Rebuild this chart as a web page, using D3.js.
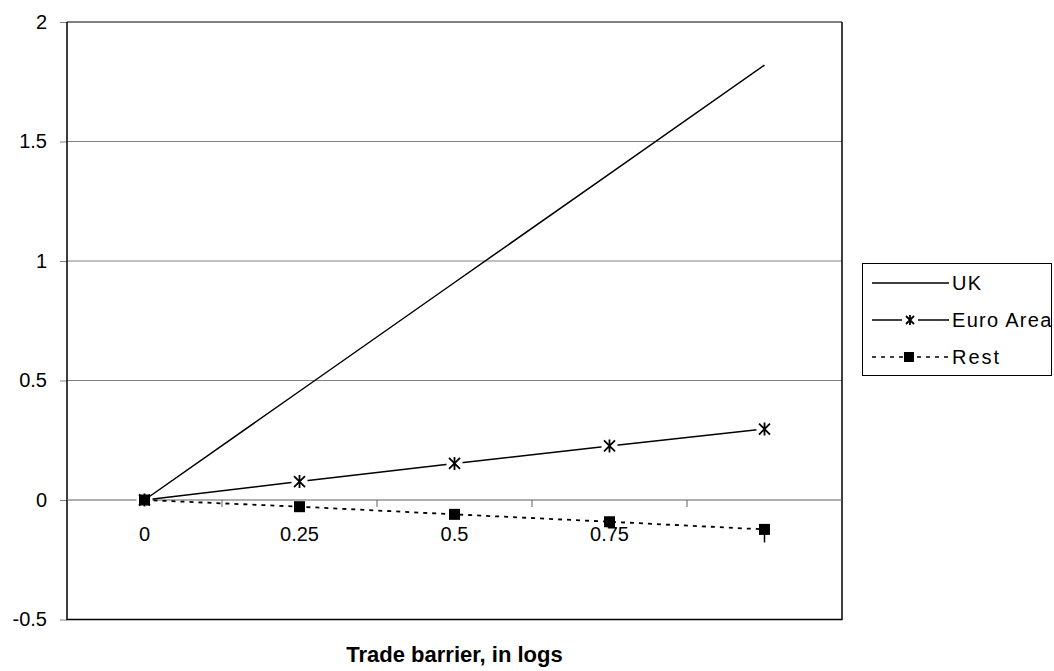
<!DOCTYPE html>
<html lang="en">
<head>
    <meta charset="UTF-8">
    <title>Trade barrier</title>
    <script src="https://d3js.org/d3.v7.min.js"></script>
    <style>
        body { margin: 0; background: #fff; }
        text { font-family: "Liberation Sans", Arial, sans-serif; fill: #000; }
    </style>
</head>
<body>
<svg id="chart" width="1054" height="671"></svg>
<script>
    const categories = [0, 0.25, 0.5, 0.75, 1];
    const xLabels = ["0", "0.25", "0.5", "0.75", ""];
    const yTicks = [-0.5, 0, 0.5, 1, 1.5, 2];
    const ukValues = [0, 0.455, 0.91, 1.365, 1.82];
    const euroValues = [0, 0.077, 0.153, 0.226, 0.297];
    const restValues = [0, -0.028, -0.06, -0.091, -0.123];
    const seriesNames = ["UK", "Euro Area", "Rest"];

    const svg = d3.select('#chart');
    const LEFT = 67, RIGHT = 842, TOP = 22, BOTTOM = 619.5;

    const xScale = d3.scaleBand()
        .domain(categories)
        .range([LEFT, RIGHT]);
    const xc = (i) => xScale(categories[i]) + xScale.bandwidth() / 2;
    const yScale = d3.scaleLinear()
        .domain([-0.5, 2])
        .range([BOTTOM, TOP]);

    // gridlines
    svg.append('g')
        .selectAll('line')
        .data(yTicks.filter(d => d !== 0 && d !== -0.5))
        .enter()
        .append('line')
        .attr('x1', LEFT).attr('x2', RIGHT)
        .attr('y1', d => yScale(d)).attr('y2', d => yScale(d))
        .attr('stroke', '#808080')
        .attr('stroke-width', d => d === 2 ? 2 : 1);

    // y axis
    const yaxis = d3.axisLeft(yScale).tickValues(yTicks).tickSize(7).tickPadding(13)
        .tickFormat(d => String(d));
    const yg = svg.append('g')
        .attr('transform', `translate(${LEFT},0)`)
        .call(yaxis);
    yg.select('.domain').remove();
    yg.selectAll('line').attr('stroke', '#808080');
    yg.selectAll('text').style('font-size', '20px').attr('fill', '#000');

    // frame
    svg.append('path')
        .attr('d', `M${LEFT},${TOP}V${BOTTOM}H${RIGHT}V${TOP}`)
        .attr('fill', 'none')
        .attr('stroke', '#000')
        .attr('stroke-width', 1.5);

    // x axis at zero
    const zeroY = yScale(0);
    svg.append('line')
        .attr('x1', LEFT).attr('x2', RIGHT)
        .attr('y1', zeroY).attr('y2', zeroY)
        .attr('stroke', '#606060')
        .attr('stroke-width', 1.2);
    const bounds = categories.slice(1).map(c => xScale(c));
    svg.append('g')
        .selectAll('line')
        .data(bounds)
        .enter()
        .append('line')
        .attr('x1', d => d).attr('x2', d => d)
        .attr('y1', zeroY).attr('y2', zeroY + 7)
        .attr('stroke', '#606060');
    svg.append('g')
        .selectAll('text')
        .data(xLabels)
        .enter()
        .append('text')
        .attr('x', (d, i) => xc(i))
        .attr('y', zeroY + 41)
        .attr('text-anchor', 'middle')
        .style('font-size', '20px')
        .text(d => d);

    // axis title
    svg.append('text')
        .attr('x', (LEFT + RIGHT) / 2)
        .attr('y', 662)
        .attr('text-anchor', 'middle')
        .style('font-size', '22px')
        .style('font-weight', 'bold')
        .text('Trade barrier, in logs');

    const line = d3.line()
        .x((d, i) => xc(i))
        .y(d => yScale(d));

    const star = (g, x, y, s) => {
        g.append('path')
            .attr('d', `M${x - s},${y - s}L${x + s},${y + s}M${x - s},${y + s}L${x + s},${y - s}M${x},${y - s - 1}V${y + s + 1}`)
            .attr('stroke', '#000')
            .attr('stroke-width', 1.8)
            .attr('fill', 'none');
    };

    // Euro Area
    svg.append('path')
        .datum(euroValues)
        .attr('d', line)
        .attr('fill', 'none')
        .attr('stroke', '#000')
        .attr('stroke-width', 1.5);
    euroValues.forEach((d, i) => {
        svg.append('rect')
            .attr('x', xc(i) - 8).attr('y', yScale(d) - 8)
            .attr('width', 16).attr('height', 16)
            .attr('fill', '#fff');
        star(svg, xc(i), yScale(d), 5.5);
    });

    // UK
    svg.append('path')
        .datum(ukValues)
        .attr('d', line)
        .attr('fill', 'none')
        .attr('stroke', '#000')
        .attr('stroke-width', 1.5);

    // Rest
    svg.append('path')
        .datum(restValues)
        .attr('d', line)
        .attr('fill', 'none')
        .attr('stroke', '#000')
        .attr('stroke-width', 1.8)
        .attr('stroke-dasharray', '4,5');
    // small bar below last point
    const lastI = restValues.length - 1;
    svg.append('line')
        .attr('x1', xc(lastI)).attr('x2', xc(lastI))
        .attr('y1', yScale(restValues[lastI])).attr('y2', yScale(restValues[lastI]) + 13)
        .attr('stroke', '#000').attr('stroke-width', 1.5);
    svg.append('g')
        .selectAll('rect')
        .data(restValues)
        .enter()
        .append('rect')
        .attr('x', (d, i) => xc(i) - 5.5)
        .attr('y', d => yScale(d) - 5.5)
        .attr('width', 11).attr('height', 11)
        .attr('fill', '#000');

    // legend
    const legend = svg.append('g');
    legend.append('rect')
        .attr('x', 862.5).attr('y', 263.5)
        .attr('width', 189).attr('height', 112)
        .attr('fill', '#fff')
        .attr('stroke', '#000');
    const ly = [283, 320, 357];
    seriesNames.forEach((name, i) => {
        legend.append('line')
            .attr('x1', 872).attr('x2', 949)
            .attr('y1', ly[i]).attr('y2', ly[i])
            .attr('stroke', '#000')
            .attr('stroke-width', 1.5)
            .attr('stroke-dasharray', i === 2 ? '4,5' : null);
        if (i === 1) {
            legend.append('rect')
                .attr('x', 902).attr('y', ly[i] - 7)
                .attr('width', 16).attr('height', 14)
                .attr('fill', '#fff');
            star(legend, 910, ly[i], 4);
        }
        if (i === 2) {
            legend.append('rect')
                .attr('x', 904).attr('y', ly[i] - 5)
                .attr('width', 10).attr('height', 10)
                .attr('fill', '#000');
        }
        legend.append('text')
            .attr('x', 952)
            .attr('y', ly[i] + 7)
            .style('font-size', '20px')
            .style('letter-spacing', i === 2 ? '2px' : '1.3px')
            .text(name);
    });
</script>
</body>
</html>
